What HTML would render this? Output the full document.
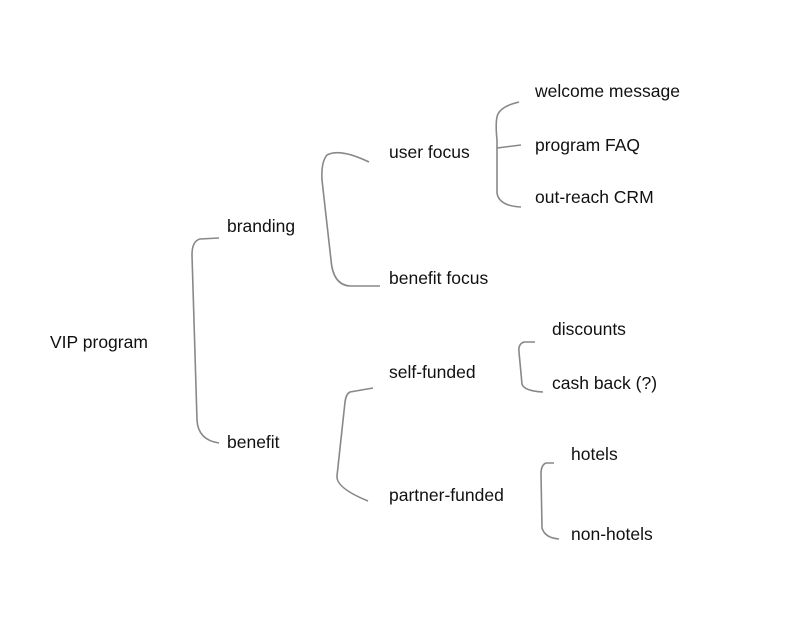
<!DOCTYPE html>
<html><head><meta charset="utf-8"><style>
html,body{margin:0;padding:0;background:#fff}
svg{display:block}
text{font-family:"Liberation Sans",sans-serif;font-size:17.5px;fill:#111}
path{fill:none;stroke:#888;stroke-width:1.6}
</style></head><body>
<svg width="800" height="642" viewBox="0 0 800 642">
<text x="50" y="348">VIP program</text>
<text x="227" y="232">branding</text>
<text x="227" y="448">benefit</text>
<text x="389" y="158">user focus</text>
<text x="389" y="284">benefit focus</text>
<text x="389" y="378">self-funded</text>
<text x="389" y="501">partner-funded</text>
<text x="535" y="97">welcome message</text>
<text x="535" y="151">program FAQ</text>
<text x="535" y="203">out-reach CRM</text>
<text x="552" y="335">discounts</text>
<text x="552" y="389">cash back (?)</text>
<text x="571" y="460">hotels</text>
<text x="571" y="540">non-hotels</text>
<path d="M219,238 L200,239 Q192,241 192,255 L197,420 Q198,440 219,443"/>
<path d="M369,162 Q340,148 327,155 Q321,162 322,180 L331,260 Q333,285 350,286 L380,286"/>
<path d="M373,388 L350,392 Q346,394 345,402 L337,476 Q336,488 368,501"/>
<path d="M519,102 Q502,106 498,114 Q495,120 497,140 L497,193 Q499,206 521,207"/>
<path d="M497,148 L521,145"/>
<path d="M535,342 L524,342 Q518,344 519,352 L522,384 Q524,391 543,392"/>
<path d="M554,463 L546,463 Q541,465 541,474 L542,528 Q545,538 559,539"/>
</svg>
</body></html>
